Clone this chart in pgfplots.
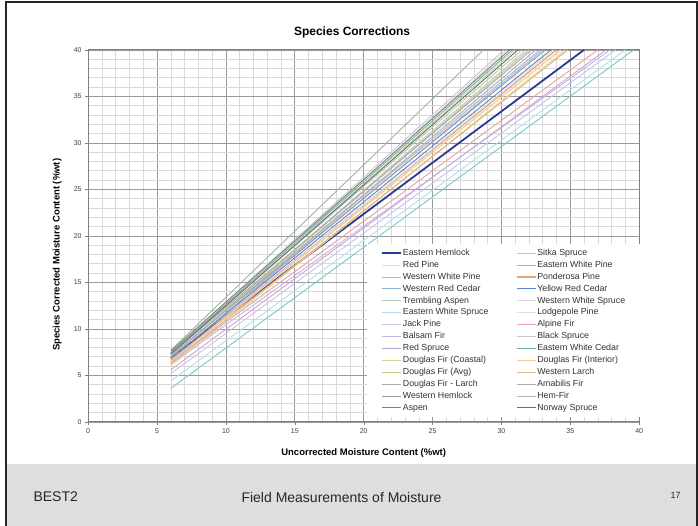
\documentclass[border=0pt]{standalone}
\usepackage{pgfplots}
\pgfplotsset{compat=1.18}
\usepackage{fontspec}
\setmainfont{Liberation Sans}
\definecolor{footgray}{HTML}{DEDEDE}
\definecolor{cEH}{HTML}{2B3A8C}
\definecolor{cSS}{HTML}{C4C4C4}
\definecolor{cRP}{HTML}{EDE3A0}
\definecolor{cEWP}{HTML}{7CC8C8}
\definecolor{cWWP}{HTML}{D9A0CF}
\definecolor{cPP}{HTML}{E3A77A}
\definecolor{cWRC}{HTML}{8DB4DE}
\definecolor{cYRC}{HTML}{5F7FD6}
\definecolor{cTA}{HTML}{B3CBB3}
\definecolor{cWWS}{HTML}{DADADA}
\definecolor{cEWS}{HTML}{B0E0EA}
\definecolor{cLP}{HTML}{E2E0CC}
\definecolor{cJP}{HTML}{C9C3EA}
\definecolor{cAF}{HTML}{E9A3A3}
\definecolor{cBF}{HTML}{BBB8E6}
\definecolor{cBS}{HTML}{C8C8D2}
\definecolor{cRS}{HTML}{A9A9DA}
\definecolor{cEWC}{HTML}{6DB3A6}
\definecolor{cDFC}{HTML}{CFD794}
\definecolor{cDFI}{HTML}{F1CBA4}
\definecolor{cDFA}{HTML}{BFC67F}
\definecolor{cWL}{HTML}{DDB88F}
\definecolor{cDFL}{HTML}{ABABAB}
\definecolor{cAmF}{HTML}{A4B4A4}
\definecolor{cWH}{HTML}{9E9E9E}
\definecolor{cHF}{HTML}{B2B2B2}
\definecolor{cAs}{HTML}{808080}
\definecolor{cNS}{HTML}{6E6E6E}
\begin{document}
\begin{tikzpicture}[x=1pt,y=1pt]
\useasboundingbox (0,0) rectangle (698,526);
\fill[white] (0,0) rectangle (698,526);
\fill[footgray] (5,0) rectangle (698,62);
\draw[line width=1.6pt, black!85] (5.8,0) -- (5.8,524.2) -- (696.8,524.2) -- (696.8,0);
\begin{axis}[
  at={(64,112)}, anchor=south west,
  scale only axis, width=551pt, height=372pt,
  xmin=0, xmax=40, ymin=0, ymax=40,
  xtick={0,5,...,40}, ytick={0,5,...,40},
  minor tick num=4,
  grid=both,
  major grid style={color=black!40, line width=0.6pt},
  minor grid style={color=black!15, line width=0.5pt},
  axis line style={color=black!50, line width=0.7pt},
  tick align=outside, tick pos=left,
  major tick length=3pt, minor tick length=0pt,
  tick style={color=black!50},
  /pgf/number format/assume math mode=true,
  tick label style={font=\fontsize{7}{8}\selectfont, text=black!75},
  title={Species Corrections},
  title style={at={(axis description cs:0.479,1.03)}, anchor=center, font=\bfseries\fontsize{12}{13}\selectfont},
  xlabel={Uncorrected Moisture Content (\%wt)},
  xlabel style={at={(axis description cs:0.5,-0.0833)}, anchor=center, font=\bfseries\fontsize{9.5}{11}\selectfont},
  ylabel={Species Corrected Moisture Content (\%wt)},
  ylabel style={at={(axis description cs:-0.0563,0.449)}, anchor=center, font=\bfseries\fontsize{9.5}{11}\selectfont},
  legend columns=2,
  legend cell align=left,
  legend image code/.code={\draw[#1] (0pt,0pt) -- (19pt,0pt);},
  legend style={at={(axis cs:20.25,19.1)}, anchor=north west, draw=none, fill=white,
    inner xsep=14pt, inner ysep=4pt, row sep=2.3pt,
    font=\fontsize{8.8}{9}\selectfont, text=black!80,
    nodes={inner sep=0.8pt, text height=6.2pt, text depth=1.8pt},
    /tikz/column 2/.style={column sep=27pt}},
]
\addplot[cEH, line width=1.8pt] coordinates {(6,6.9) (36.0,40)};
\addlegendentry{Eastern Hemlock}
\addplot[cSS, line width=0.9pt] coordinates {(6,7.0) (31.8,40)};
\addlegendentry{Sitka Spruce}
\addplot[cRP, line width=0.9pt] coordinates {(6,6.0) (34.6,40)};
\addlegendentry{Red Pine}
\addplot[cEWP, line width=0.9pt] coordinates {(6,3.6) (39.6,40)};
\addlegendentry{Eastern White Pine}
\addplot[cWWP, line width=0.9pt] coordinates {(6,5.6) (37.6,40)};
\addlegendentry{Western White Pine}
\addplot[cPP, line width=1.2pt] coordinates {(6,6.6) (34.0,40)};
\addlegendentry{Ponderosa Pine}
\addplot[cWRC, line width=0.9pt] coordinates {(6,6.8) (33.0,40)};
\addlegendentry{Western Red Cedar}
\addplot[cYRC, line width=0.9pt] coordinates {(6,6.8) (33.6,40)};
\addlegendentry{Yellow Red Cedar}
\addplot[cTA, line width=0.9pt] coordinates {(6,7.4) (31.5,40)};
\addlegendentry{Trembling Aspen}
\addplot[cWWS, line width=0.9pt] coordinates {(6,7.2) (30.4,40)};
\addlegendentry{Western White Spruce}
\addplot[cEWS, line width=0.9pt] coordinates {(6,4.4) (39.0,40)};
\addlegendentry{Eastern White Spruce}
\addplot[cLP, line width=0.9pt] coordinates {(6,6.4) (33.8,40)};
\addlegendentry{Lodgepole Pine}
\addplot[cJP, line width=0.9pt] coordinates {(6,5.2) (38.3,40)};
\addlegendentry{Jack Pine}
\addplot[cAF, line width=0.9pt] coordinates {(6,6.4) (37.0,40)};
\addlegendentry{Alpine Fir}
\addplot[cBF, line width=0.9pt] coordinates {(6,6.2) (37.9,40)};
\addlegendentry{Balsam Fir}
\addplot[cBS, line width=0.9pt] coordinates {(6,7.5) (30.2,40)};
\addlegendentry{Black Spruce}
\addplot[cRS, line width=0.9pt] coordinates {(6,7.0) (32.5,40)};
\addlegendentry{Red Spruce}
\addplot[cEWC, line width=0.9pt] coordinates {(6,7.4) (30.8,40)};
\addlegendentry{Eastern White Cedar}
\addplot[cDFC, line width=0.9pt] coordinates {(6,7.2) (31.0,40)};
\addlegendentry{Douglas Fir (Coastal)}
\addplot[cDFI, line width=1.2pt] coordinates {(6,6.5) (34.3,40)};
\addlegendentry{Douglas Fir (Interior)}
\addplot[cDFA, line width=0.9pt] coordinates {(6,7.0) (32.0,40)};
\addlegendentry{Douglas Fir (Avg)}
\addplot[cWL, line width=1.2pt] coordinates {(6,6.3) (34.8,40)};
\addlegendentry{Western Larch}
\addplot[cDFL, line width=0.9pt] coordinates {(6,7.3) (32.2,40)};
\addlegendentry{Douglas Fir - Larch}
\addplot[cAmF, line width=0.9pt] coordinates {(6,7.7) (28.7,40)};
\addlegendentry{Amabilis Fir}
\addplot[cWH, line width=0.9pt] coordinates {(6,7.1) (33.2,40)};
\addlegendentry{Western Hemlock}
\addplot[cHF, line width=0.9pt] coordinates {(6,7.1) (32.8,40)};
\addlegendentry{Hem-Fir}
\addplot[cAs, line width=0.9pt] coordinates {(6,7.6) (30.6,40)};
\addlegendentry{Aspen}
\addplot[cNS, line width=0.9pt] coordinates {(6,7.3) (31.2,40)};
\addlegendentry{Norway Spruce}
\end{axis}
\node[anchor=west, font=\fontsize{14}{16}\selectfont, text=black!85] at (30,29) {BEST2};
\node[anchor=west, font=\fontsize{14}{16}\selectfont, text=black!85] at (238,29) {Field Measurements of Moisture};
\node[anchor=west, font=\fontsize{9}{10}\selectfont, text=black!85] at (667,31) {17};
\end{tikzpicture}
\end{document}
